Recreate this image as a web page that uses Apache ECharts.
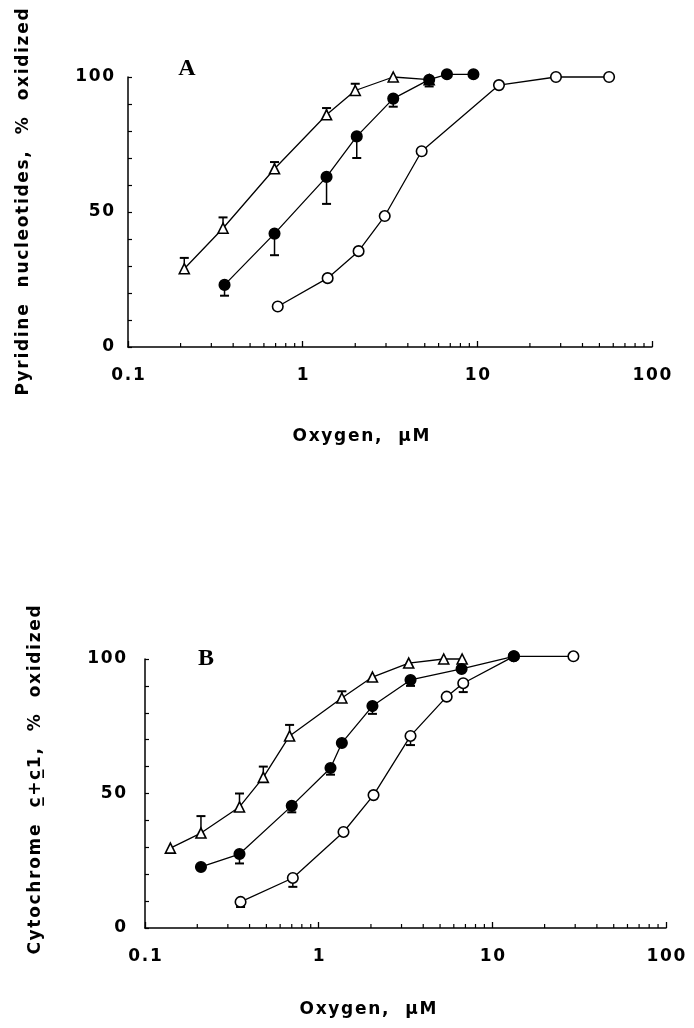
<!DOCTYPE html>
<html>
<head>
<meta charset="utf-8">
<script src="https://cdn.jsdelivr.net/npm/echarts@6/dist/echarts.min.js"></script>
<style>
html,body{margin:0;padding:0;background:#fff;}
#chart{width:694px;height:1028px;}
</style>
</head>
<body>
<div id="chart"></div>
<script>
// ---------- Panel A data (Pyridine nucleotides) ----------
const xA_tri  = [0.21, 0.35, 0.69, 1.37, 2.0, 3.3, 5.3];
const yA_tri  = [29, 44, 66, 86, 95, 100, 99];
const xA_fill = [0.357, 0.69, 1.37, 2.04, 3.3, 5.3, 6.7, 9.5];
const yA_fill = [23, 42, 63, 78, 92, 99, 101, 101];
const xA_open = [0.72, 1.39, 2.09, 2.95, 4.8, 13.3, 28.2, 56.8];
const yA_open = [15, 25.5, 35.5, 48.5, 72.5, 97, 100, 100];
// error bars: [x, mean, end]
const errA_tri  = [[0.21, 29, 33], [0.35, 44, 48], [0.69, 66, 68.5], [1.37, 86, 88.5], [2.0, 95, 97.5]];
const errA_fill = [[0.357, 23, 19], [0.69, 42, 34], [1.37, 63, 53], [2.04, 78, 70], [3.3, 92, 89], [5.3, 99, 96.5]];

// ---------- Panel B data (Cytochrome c+c1) ----------
const xB_tri  = [0.14, 0.21, 0.35, 0.48, 0.68, 1.36, 2.04, 3.3, 5.25, 6.7];
const yB_tri  = [29.7, 35.3, 45, 56, 71.4, 85.5, 93.3, 98.5, 100, 100];
const xB_fill = [0.21, 0.35, 0.70, 1.17, 1.36, 2.04, 3.38, 6.65, 13.3];
const yB_fill = [22.7, 27.5, 45.4, 59.5, 68.8, 82.5, 92.2, 96.3, 101];
const xB_open = [0.355, 0.71, 1.39, 2.07, 3.38, 5.46, 6.8, 13.3, 29.3];
const yB_open = [9.7, 18.6, 35.7, 49.4, 71.4, 86, 91, 101, 101];
const errB_tri  = [[0.21, 35.3, 41.6], [0.35, 45, 50], [0.48, 56, 60], [0.68, 71.4, 75.5], [1.36, 85.5, 88]];
const errB_fill = [[0.35, 27.5, 24], [0.70, 45.4, 43], [1.17, 59.5, 57], [2.04, 82.5, 79.6], [3.38, 92.2, 90]];
const errB_open = [[0.355, 9.7, 7.8], [0.71, 18.6, 15.3], [3.38, 71.4, 68], [6.8, 91, 87.7]];

// ---------- axis text ----------
const yTickLabels = {0: '0', 50: '50', 100: '100'};
const xTickLabels = {0.1: '0.1', 1: '1', 10: '10', 100: '100'};
const titleA = 'Pyridine  nucleotides,  %  oxidized';
const titleB = 'Cytochrome  c\u0332+c\u03321,  %  oxidized';
const xTitle = 'Oxygen,  \u03bcM';
const decades = [0.1, 1, 10];
const minorMult = [2, 3, 4, 5, 6, 7, 8, 9];

const FONT = '"DejaVu Sans", Verdana, sans-serif';
function spaced(s) {
  const parts = s.match(/.[\u0300-\u036f]*/g) || [];
  return parts.join('\u200a');
}
const minorVals = [];
decades.forEach(d => minorMult.forEach(m => minorVals.push([+(d * m).toPrecision(3), 0])));

const zip = (xs, ys) => xs.map((x, i) => [x, ys[i]]);

function errRender(params, api) {
  const p0 = api.coord([api.value(0), api.value(1)]);
  const p1 = api.coord([api.value(0), api.value(2)]);
  return {
    type: 'group',
    children: [
      {type: 'line', shape: {x1: p0[0], y1: p0[1], x2: p1[0], y2: p1[1]}, style: {stroke: '#000', lineWidth: 1.5}},
      {type: 'line', shape: {x1: p1[0] - 4.5, y1: p1[1], x2: p1[0] + 4.5, y2: p1[1]}, style: {stroke: '#000', lineWidth: 2}}
    ]
  };
}
function minorRender(params, api) {
  const p = api.coord([api.value(0), 0]);
  return {type: 'line', shape: {x1: p[0], y1: p[1], x2: p[0], y2: p[1] - 4}, style: {stroke: '#000', lineWidth: 1.2}};
}

function xAxisDef(gi) {
  return {
    type: 'log', logBase: 10, min: 0.1, max: 100, gridIndex: gi,
    axisLine: {lineStyle: {color: '#000', width: 1.5}},
    axisTick: {inside: true, length: 6, lineStyle: {color: '#000', width: 1.3}},
    splitLine: {show: false},
    axisLabel: {
      margin: 20, color: '#000', fontFamily: FONT, fontWeight: 'bold', fontSize: 17,
      formatter: v => {
        const key = v < 0.5 ? 0.1 : Math.round(v);
        return spaced(xTickLabels[key] || '');
      }
    }
  };
}
function yAxisDef(gi, margin) {
  return {
    type: 'value', min: 0, max: 100, interval: 10, gridIndex: gi,
    axisLine: {show: true, lineStyle: {color: '#000', width: 1.5}},
    axisTick: {show: true, inside: true, length: 4, lineStyle: {color: '#000', width: 1.2}},
    splitLine: {show: false},
    axisLabel: {
      margin: margin, color: '#000', fontFamily: FONT, fontWeight: 'bold', fontSize: 17,
      formatter: v => (yTickLabels[v] !== undefined ? spaced(yTickLabels[v]) : '')
    }
  };
}

function lineSeries(gi, data, symbol, fill, z) {
  return {
    type: 'line', xAxisIndex: gi, yAxisIndex: gi, data: data,
    symbol: symbol, symbolSize: symbol === 'triangle' ? 10 : 10.5, showAllSymbol: true,
    clip: false, z: z, animation: false,
    lineStyle: {color: '#000', width: 1.3},
    itemStyle: {color: fill, borderColor: '#000', borderWidth: 1.6}
  };
}
function errSeries(gi, data) {
  return {type: 'custom', xAxisIndex: gi, yAxisIndex: gi, data: data, renderItem: errRender,
          encode: {x: 0, y: [1, 2]}, clip: false, z: 1, animation: false, silent: true};
}
function minorSeries(gi) {
  return {type: 'custom', xAxisIndex: gi, yAxisIndex: gi, data: minorVals, renderItem: minorRender,
          encode: {x: 0, y: 1}, clip: false, z: 1, animation: false, silent: true};
}

const chart = echarts.init(document.getElementById('chart'), null, {renderer: 'canvas'});
chart.setOption({
  backgroundColor: '#fff',
  animation: false,
  grid: [
    {left: 128, top: 77, width: 524, height: 270},
    {left: 145, top: 659, width: 521, height: 269}
  ],
  xAxis: [xAxisDef(0), xAxisDef(1)],
  yAxis: [yAxisDef(0, 14), yAxisDef(1, 19)],
  graphic: [
    {type: 'text', x: 24, y: 202, rotation: Math.PI / 2,
     style: {text: spaced(titleA), font: 'bold 17px ' + FONT, fill: '#000', align: 'center', verticalAlign: 'middle'}},
    {type: 'text', x: 36, y: 780, rotation: Math.PI / 2,
     style: {text: spaced(titleB), font: 'bold 17px ' + FONT, fill: '#000', align: 'center', verticalAlign: 'middle'}},
    {type: 'text', x: 361, y: 437,
     style: {text: spaced(xTitle), font: 'bold 17px ' + FONT, fill: '#000', align: 'center', verticalAlign: 'middle'}},
    {type: 'text', x: 368, y: 1010,
     style: {text: spaced(xTitle), font: 'bold 17px ' + FONT, fill: '#000', align: 'center', verticalAlign: 'middle'}},
    {type: 'text', x: 187, y: 69,
     style: {text: 'A', font: 'bold 24px "Liberation Serif", "Times New Roman", serif', fill: '#000', align: 'center', verticalAlign: 'middle'}},
    {type: 'text', x: 206, y: 659,
     style: {text: 'B', font: 'bold 24px "Liberation Serif", "Times New Roman", serif', fill: '#000', align: 'center', verticalAlign: 'middle'}}
  ],
  series: [
    minorSeries(0), minorSeries(1),
    errSeries(0, errA_tri), errSeries(0, errA_fill),
    errSeries(1, errB_tri), errSeries(1, errB_fill), errSeries(1, errB_open),
    lineSeries(0, zip(xA_tri, yA_tri), 'triangle', '#fff', 3),
    lineSeries(0, zip(xA_open, yA_open), 'circle', '#fff', 4),
    lineSeries(0, zip(xA_fill, yA_fill), 'circle', '#000', 5),
    lineSeries(1, zip(xB_tri, yB_tri), 'triangle', '#fff', 3),
    lineSeries(1, zip(xB_open, yB_open), 'circle', '#fff', 4),
    lineSeries(1, zip(xB_fill, yB_fill), 'circle', '#000', 5)
  ]
});
</script>
</body>
</html>
